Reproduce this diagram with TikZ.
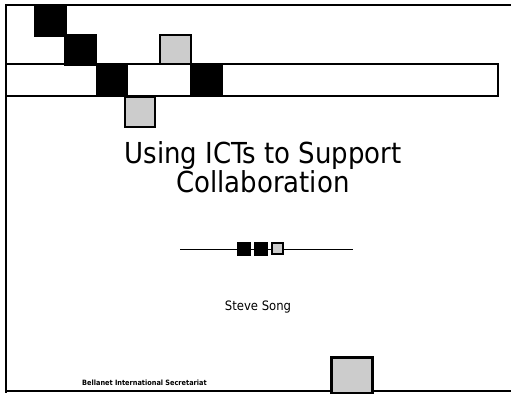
\documentclass[tikz,border=0pt]{standalone}
\usepackage{fontspec}
\setmainfont{DejaVu Sans Condensed}
\begin{document}
\begin{tikzpicture}[x=1bp,y=-1bp]
\tikzset{blk/.style={fill=black,draw=black},
  gry/.style={fill=gray!40,draw=black,line width=2bp}}
\useasboundingbox (0,0) rectangle (511,393);
% frame
\draw[line width=2.5bp] (511,5) -- (6,5) -- (6,393);
\draw[line width=2bp] (6,391) -- (511,391);
% bar with blocks
\draw[line width=2.5bp] (6,64) rectangle (498,96);
\fill[blk] (34,6) rectangle (66,36);
\fill[blk] (64,34) rectangle (96,65);
\fill[blk] (96,64) rectangle (127,96);
\fill[blk] (190,64) rectangle (222,96);
\draw[gry] (160,35) rectangle (191,64);
\draw[gry] (125,97) rectangle (155,127);
% title
\node (title) [align=center,font=\fontsize{29}{24}\selectfont] at (263,167)
  {Using ICTs to Support\\Collaboration};
% divider
\draw[line width=1bp] (180,249) -- (353,249);
\fill[blk] (237,242) rectangle (250,255);
\fill[blk] (254,242) rectangle (267,255);
\draw[gry,line width=1.5bp] (272,243) rectangle (283,254);
% author
\node (author) at (258,307) {\fontsize{13}{15}\selectfont Steve Song};
% footer
\node (org) [right,inner sep=0pt] at (82,383)
  {\fontsize{7.3}{8}\selectfont\bfseries Bellanet International Secretariat};
\draw[gry,line width=3bp] (331,357) rectangle (372,393);
\end{tikzpicture}
\end{document}
